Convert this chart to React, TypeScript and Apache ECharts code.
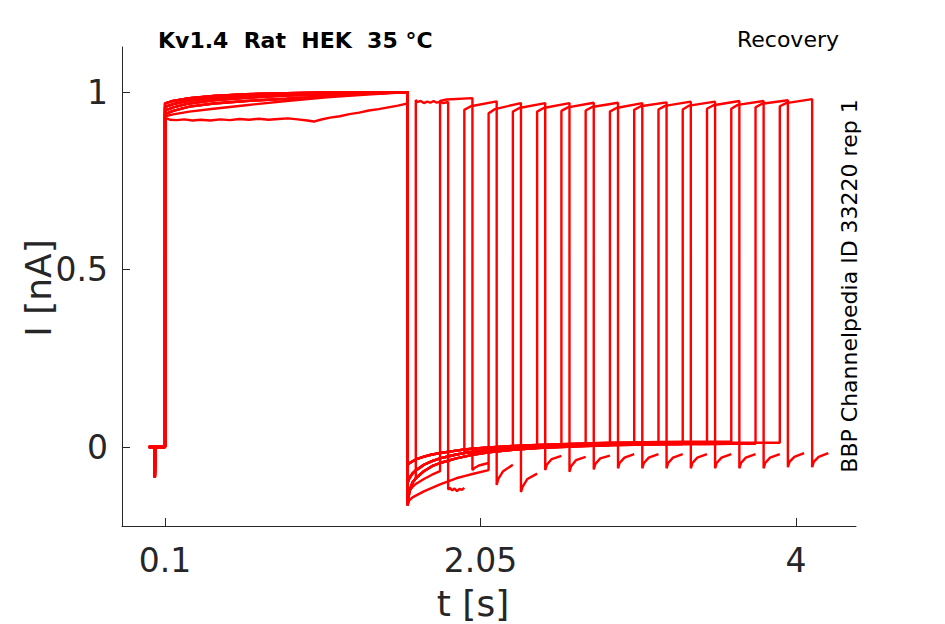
import React, { useEffect, useRef } from "react";
import * as echarts from "echarts";

// ---------- protocol timing (s) ----------
const pulse2Start = [1.65, 1.8, 1.95, 2.1, 2.25, 2.4, 2.55, 2.7, 2.85, 3.0, 3.15, 3.3, 3.45, 3.6, 3.75, 3.9];
const pulse2Duration = 0.2;

// ---------- holding + artefact before first step ----------
const dipTimes = [0, 0.035, 0.037, 0.04, 0.1];
const dipValues = [0, 0, -0.085, 0, 0];

// ---------- first pulse (0.1 .. 1.6 s) ----------
const p1Times = [0.1, 0.15, 0.25, 0.4, 0.6, 0.85, 1.1, 1.35, 1.6];
const p1CurveA = [0.968, 0.975, 0.983, 0.989, 0.994, 0.997, 0.999, 1.0, 1.0];
const p1CurveB = [0.958, 0.966, 0.976, 0.984, 0.99, 0.994, 0.997, 0.999, 1.0];
const p1CurveC = [0.948, 0.957, 0.968, 0.977, 0.984, 0.99, 0.994, 0.998, 1.0];
const p1CurveD = [0.938, 0.947, 0.959, 0.968, 0.975, 0.981, 0.988, 0.995, 1.0];
const p1CurveE = [0.932, 0.937, 0.945, 0.953, 0.963, 0.975, 0.985, 0.993, 1.0];
const p1NoisyTimes = [0.1, 0.13, 0.17, 0.22, 0.27, 0.32, 0.38, 0.44, 0.5, 0.56, 0.62, 0.68, 0.74, 0.8, 0.86, 0.92, 0.98, 1.02, 1.06, 1.12, 1.18, 1.24, 1.3, 1.36, 1.42, 1.48, 1.54, 1.6];
const p1NoisyValues = [0.928, 0.922, 0.921, 0.923, 0.92, 0.922, 0.92, 0.923, 0.921, 0.924, 0.922, 0.925, 0.922, 0.924, 0.926, 0.923, 0.92, 0.917, 0.922, 0.928, 0.932, 0.938, 0.942, 0.948, 0.952, 0.957, 0.962, 0.968];
// which first-pulse curve each sweep follows ("N" = noisy sweep)
const p1Assign = ["N", "E", "A", "D", "B", "A", "C", "B", "A", "D", "C", "B", "A", "C", "B", "D"];

// ---------- tail after the first pulse ----------
const tail1Times = [1.6, 1.61, 1.63, 1.65, 1.7, 1.75, 1.8, 1.9, 1.95, 2.0, 2.1, 2.25, 2.4, 2.55, 2.7, 2.85, 3.0, 3.15, 3.3, 3.45, 3.6, 3.75, 3.9];
const tail1A = [-0.05, -0.046, -0.04, -0.035, -0.027, -0.021, -0.017, -0.01, -0.007, -0.005, -0.001, 0.003, 0.006, 0.008, 0.01, 0.012, 0.013, 0.014, 0.015, 0.015, 0.015, 0.015, 0.015];
const tail1B = [-0.1, -0.088, -0.074, -0.066, -0.05, -0.04, -0.032, -0.021, -0.017, -0.014, -0.008, -0.003, 0.001, 0.004, 0.006, 0.008, 0.009, 0.01, 0.011, 0.011, 0.012, 0.012, 0.012];
const tail1C = [-0.165, -0.125, -0.1, -0.088, -0.068, -0.054, -0.045, -0.032, -0.027, -0.022, -0.015, -0.008, -0.003, 0.0, 0.003, 0.005, 0.006, 0.007, 0.008, 0.008, 0.009, 0.009, 0.009];
const tail1Sweep1Times = [1.6, 1.61, 1.63, 1.65, 1.7, 1.75, 1.8];
const tail1Sweep1Values = [-0.14, -0.125, -0.112, -0.104, -0.09, -0.078, -0.068];
const tail1Sweep3Times = [1.6, 1.61, 1.63, 1.65, 1.7, 1.75, 1.8, 1.9, 1.95, 2.0, 2.1];
const tail1Sweep3Values = [-0.16, -0.15, -0.142, -0.137, -0.125, -0.115, -0.105, -0.088, -0.082, -0.076, -0.065];
const tail1Assign = ["C", "S1", "B", "S3", "A", "C", "B", "A", "C", "B", "A", "C", "B", "A", "C", "B"];

// ---------- second (test) pulse ----------
const p2StartValues = [0.975, 0.975, 0.95, 0.94, 0.945, 0.945, 0.947, 0.948, 0.945, 0.95, 0.951, 0.951, 0.953, 0.953, 0.957, 0.96];
const p2KneeValues = [0.972, 0.979, 0.96, 0.952, 0.955, 0.955, 0.957, 0.958, 0.955, 0.96, 0.961, 0.962, 0.963, 0.964, 0.967, 0.969];
const p2EndValues = [0.97, 0.983, 0.974, 0.969, 0.969, 0.969, 0.97, 0.97, 0.969, 0.971, 0.973, 0.973, 0.975, 0.975, 0.977, 0.98];
const p2NoisyRelTimes = [0, 0.01, 0.03, 0.05, 0.07, 0.09, 0.11, 0.13, 0.15, 0.17, 0.2];
const p2NoisyValues = [0.978, 0.972, 0.975, 0.969, 0.973, 0.97, 0.975, 0.97, 0.973, 0.969, 0.972];

// ---------- tail after the second pulse ----------
const tail2RelTimes = [0, 0.01, 0.04, 0.1];
const tail2At0 = [-0.12, -0.065, -0.107, -0.127, -0.065, -0.07, -0.063, -0.06, -0.06, -0.06, -0.06, -0.06, -0.06, -0.06, -0.057, -0.057];
const tail2At10 = [-0.12, -0.06, -0.09, -0.112, -0.05, -0.054, -0.048, -0.045, -0.045, -0.045, -0.045, -0.045, -0.045, -0.045, -0.042, -0.042];
const tail2At40 = [-0.12, -0.052, -0.068, -0.09, -0.034, -0.037, -0.032, -0.03, -0.03, -0.03, -0.03, -0.03, -0.03, -0.03, -0.028, -0.028];
const tail2At100 = [-0.12, -0.045, -0.05, -0.075, -0.025, -0.028, -0.024, -0.02, -0.02, -0.02, -0.02, -0.02, -0.02, -0.02, -0.017, -0.017];
const tail2NoisyRelTimes = [0, 0.01, 0.025, 0.04, 0.055, 0.07, 0.085, 0.1];
const tail2NoisyValues = [-0.12, -0.115, -0.122, -0.117, -0.124, -0.118, -0.121, -0.115];

// ---------- axes ----------
const xTicks = [0.1, 2.05, 4];
const yTicks = [0, 0.5, 1];
const xRange = [-0.166, 4.371];
const yRange = [-0.2225, 1.127];

const p1Curves: Record<string, number[]> = { A: p1CurveA, B: p1CurveB, C: p1CurveC, D: p1CurveD, E: p1CurveE };
const tail1Curves: Record<string, number[]> = { A: tail1A, B: tail1B, C: tail1C };

function buildSweep(k: number): number[][] {
  const pts: number[][] = [];
  dipTimes.forEach((t, i) => pts.push([t, dipValues[i]]));
  if (p1Assign[k] === "N") {
    p1NoisyTimes.forEach((t, i) => pts.push([t, p1NoisyValues[i]]));
  } else {
    const c = p1Curves[p1Assign[k]];
    p1Times.forEach((t, i) => pts.push([t, c[i]]));
  }
  const s = pulse2Start[k];
  const ta = tail1Assign[k];
  if (ta === "S1") {
    tail1Sweep1Times.forEach((t, i) => pts.push([t, tail1Sweep1Values[i]]));
  } else if (ta === "S3") {
    tail1Sweep3Times.forEach((t, i) => pts.push([t, tail1Sweep3Values[i]]));
  } else {
    const c = tail1Curves[ta];
    tail1Times.forEach((t, i) => {
      if (t <= s + 1e-9) pts.push([t, c[i]]);
    });
  }
  const e = s + pulse2Duration;
  if (k === 0) {
    p2NoisyRelTimes.forEach((r, i) => pts.push([s + r, p2NoisyValues[i]]));
    tail2NoisyRelTimes.forEach((r, i) => pts.push([e + r, tail2NoisyValues[i]]));
  } else {
    pts.push([s, p2StartValues[k]]);
    pts.push([s + 0.04, p2KneeValues[k]]);
    pts.push([e, p2EndValues[k]]);
    const t2 = [tail2At0[k], tail2At10[k], tail2At40[k], tail2At100[k]];
    tail2RelTimes.forEach((r, i) => pts.push([e + r, t2[i]]));
  }
  return pts;
}

const AX = "#262626";
const FONT = '"DejaVu Sans", sans-serif';

export default function App() {
  const ref = useRef<HTMLDivElement>(null);
  useEffect(() => {
    if (!ref.current) return;
    const chart = echarts.init(ref.current, undefined, { renderer: "svg" });
    const series = pulse2Start.map((_, k) => ({
      type: "line",
      data: buildSweep(k),
      showSymbol: false,
      symbol: "none",
      silent: true,
      clip: true,
      lineStyle: { color: "#ff0000", width: 2.4 },
      itemStyle: { color: "#ff0000" },
    }));
    chart.setOption({
      animation: false,
      backgroundColor: "#ffffff",
      grid: { left: 122, right: 89, top: 47, bottom: 98, containLabel: false },
      xAxis: {
        type: "value",
        min: xRange[0],
        max: xRange[1],
        splitLine: { show: false },
        axisLine: { show: true, onZero: false, lineStyle: { color: AX, width: 1 } },
        axisTick: { show: true, inside: true, length: 8, customValues: xTicks, lineStyle: { color: AX } },
        axisLabel: {
          show: true,
          customValues: xTicks,
          formatter: (v: number) => String(v),
          color: AX,
          fontSize: 33,
          fontFamily: FONT,
          margin: 18,
        },
      },
      yAxis: {
        type: "value",
        min: yRange[0],
        max: yRange[1],
        splitLine: { show: false },
        axisLine: { show: true, onZero: false, lineStyle: { color: AX, width: 1 } },
        axisTick: { show: true, inside: true, length: 8, customValues: yTicks, lineStyle: { color: AX } },
        axisLabel: {
          show: true,
          customValues: yTicks,
          formatter: (v: number) => String(v),
          color: AX,
          fontSize: 33,
          fontFamily: FONT,
          margin: 14,
        },
      },
      series,
      graphic: [
        {
          type: "text",
          x: 158,
          y: 40,
          style: { text: "Kv1.4  Rat  HEK  35 °C", font: `bold 22px ${FONT}`, fill: "#000", align: "left", verticalAlign: "middle" },
        },
        {
          type: "text",
          x: 839,
          y: 39,
          style: { text: "Recovery", font: `22px ${FONT}`, fill: "#000", align: "right", verticalAlign: "middle" },
        },
        {
          type: "text",
          x: 849,
          y: 286,
          rotation: Math.PI / 2,
          style: { text: "BBP Channelpedia ID 33220 rep 1", font: `22px ${FONT}`, fill: "#000", align: "center", verticalAlign: "middle" },
        },
        {
          type: "text",
          x: 473,
          y: 603,
          style: { text: "t [s]", font: `36px ${FONT}`, fill: AX, align: "center", verticalAlign: "middle" },
        },
        {
          type: "text",
          x: 38,
          y: 288,
          rotation: Math.PI / 2,
          style: { text: "I [nA]", font: `36px ${FONT}`, fill: AX, align: "center", verticalAlign: "middle" },
        },
      ],
    });
    return () => chart.dispose();
  }, []);
  return <div ref={ref} style={{ position: "fixed", left: 0, top: 0, width: 945, height: 624, background: "#fff" }} />;
}
